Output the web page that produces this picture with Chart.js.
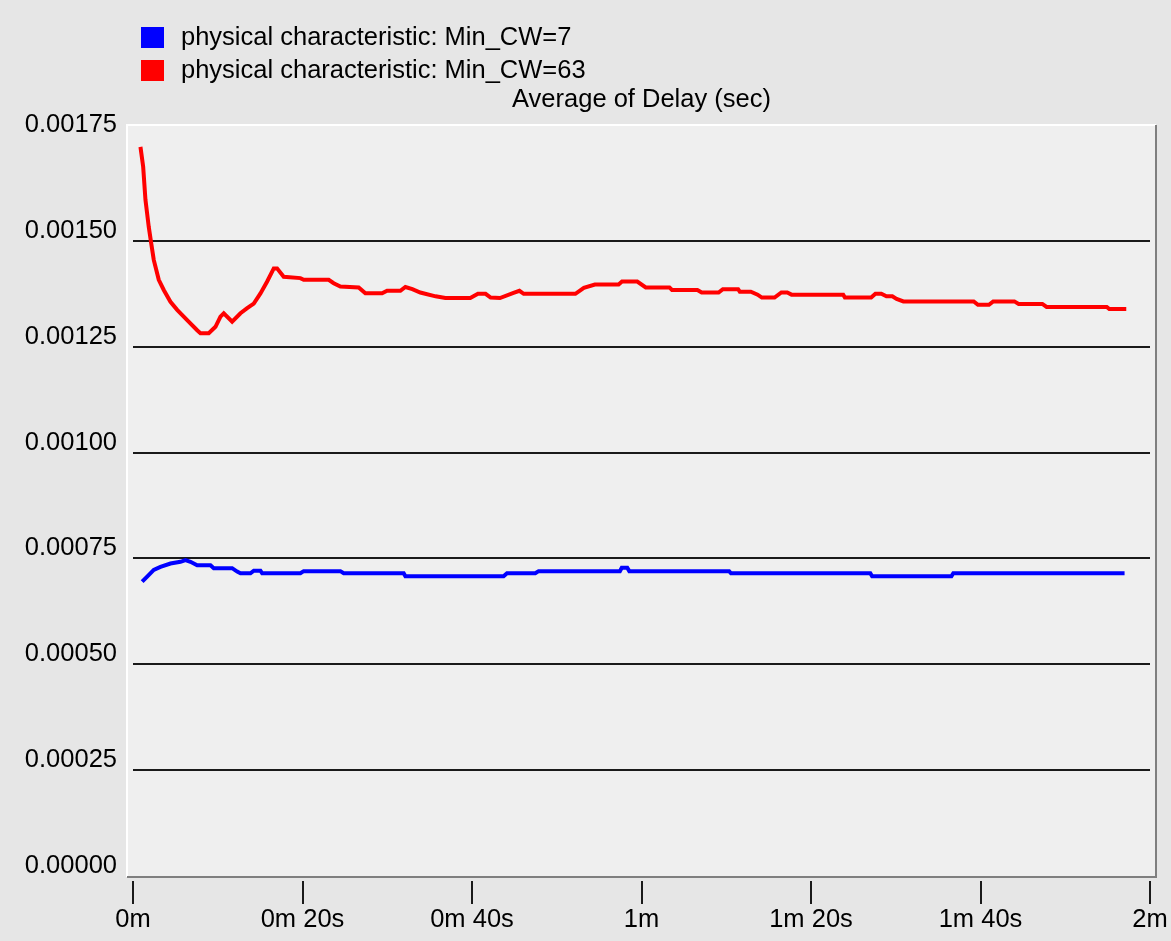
<!DOCTYPE html>
<html>
<head>
<meta charset="utf-8">
<script src="https://cdn.jsdelivr.net/npm/chart.js@4.4.1/dist/chart.umd.min.js"></script>
<style>
  html, body { margin: 0; padding: 0; background: #e6e6e6; }
  canvas { display: block; }
</style>
</head>
<body>
<canvas id="c" width="1171" height="941"></canvas>
<script>
// ---- Data ----
const chartTitle = 'Average of Delay (sec)';
const seriesNames = ['physical characteristic: Min_CW=7', 'physical characteristic: Min_CW=63'];
const seriesColors = ['#0000ff', '#ff0000'];

const xTickValues = [0, 20, 40, 60, 80, 100, 120];
const xTickLabels = ['0m', '0m 20s', '0m 40s', '1m', '1m 20s', '1m 40s', '2m'];
const yTickValues = [0, 0.00025, 0.0005, 0.00075, 0.001, 0.00125, 0.0015, 0.00175];
const yTickLabels = ['0.00000', '0.00025', '0.00050', '0.00075', '0.00100', '0.00125', '0.00150', '0.00175'];

// Min_CW=7 (blue): time in seconds, delay in seconds
const blueTimes = [1.08, 1.67, 2.45, 3.24, 4.42, 5.6, 6.19, 6.78, 7.57, 9.14, 9.53, 11.7, 12.29, 12.68, 13.86, 14.25, 15.04, 15.24, 19.75, 20.14, 24.47, 24.86, 31.94, 32.14, 43.73, 44.13, 47.47, 47.86, 57.45, 57.67, 58.32, 58.56, 70.34, 70.56, 87.0, 87.21, 96.57, 96.79, 117.0];
const blueValues = [0.000695, 0.000707, 0.000723, 0.00073, 0.000738, 0.000742, 0.000746, 0.000742, 0.000734, 0.000734, 0.000727, 0.000727, 0.000719, 0.000715, 0.000715, 0.000721, 0.000721, 0.000715, 0.000715, 0.00072, 0.00072, 0.000715, 0.000715, 0.000708, 0.000708, 0.000715, 0.000715, 0.00072, 0.00072, 0.000728, 0.000728, 0.00072, 0.00072, 0.000715, 0.000715, 0.000708, 0.000708, 0.000715, 0.000715];

// Min_CW=63 (red)
const redTimes = [0.88, 1.2, 1.47, 1.86, 2.15, 2.45, 3.04, 3.63, 4.42, 5.21, 6.39, 7.57, 7.96, 8.94, 9.73, 10.32, 10.71, 11.7, 12.68, 13.47, 14.25, 15.04, 15.83, 16.61, 17.0, 17.78, 19.75, 20.14, 23.09, 23.68, 24.47, 26.63, 27.42, 29.39, 29.98, 31.55, 32.14, 32.96, 33.9, 35.7, 36.86, 39.8, 40.7, 41.6, 42.2, 43.3, 44.9, 45.6, 46.1, 52.2, 53.2, 54.5, 57.3, 57.7, 59.5, 60.5, 63.3, 63.6, 66.6, 67.1, 69.1, 69.6, 71.4, 71.6, 72.9, 73.7, 74.2, 75.7, 76.5, 77.2, 77.7, 83.8, 84.0, 87.1, 87.6, 88.3, 88.9, 89.6, 90.1, 90.9, 99.2, 99.7, 101.0, 101.5, 104.0, 104.5, 107.3, 107.8, 114.9, 115.2, 117.2];
const redValues = [0.001722, 0.001675, 0.001597, 0.001533, 0.001494, 0.001455, 0.001408, 0.001384, 0.001356, 0.001337, 0.001313, 0.001289, 0.001282, 0.001282, 0.001297, 0.001321, 0.001329, 0.001309, 0.001329, 0.001341, 0.001352, 0.001376, 0.001404, 0.001435, 0.001435, 0.001415, 0.001412, 0.001408, 0.001408, 0.0014, 0.001392, 0.00139, 0.001376, 0.001376, 0.001382, 0.001382, 0.001391, 0.001386, 0.001378, 0.001369, 0.001365, 0.001365, 0.001375, 0.001375, 0.001366, 0.001365, 0.001377, 0.001382, 0.001375, 0.001375, 0.001389, 0.001397, 0.001397, 0.001404, 0.001404, 0.00139, 0.00139, 0.001384, 0.001384, 0.001378, 0.001378, 0.001386, 0.001386, 0.00138, 0.00138, 0.001373, 0.001366, 0.001366, 0.001378, 0.001378, 0.001373, 0.001373, 0.001366, 0.001366, 0.001375, 0.001375, 0.001369, 0.001369, 0.001363, 0.001357, 0.001357, 0.001349, 0.001349, 0.001357, 0.001357, 0.001351, 0.001351, 0.001344, 0.001344, 0.001339, 0.001339];

// ---- Style ----
const FONT_FAMILY = '"Liberation Sans", Arial, sans-serif';
const FONT_SIZE = 25.5;

function toPoints(xs, ys) { return xs.map((x, i) => ({ x: x, y: ys[i] })); }

const framePlugin = {
  id: 'frame',
  beforeDraw(chart) {
    const ctx = chart.ctx;
    const a = chart.chartArea;
    ctx.save();
    ctx.fillStyle = '#e6e6e6';
    ctx.fillRect(0, 0, chart.width, chart.height);
    const L = a.left - 6, T = a.top - 10, R = a.right + 6, B = a.bottom + 1;
    ctx.fillStyle = '#efefef';
    ctx.fillRect(L, T, R - L, B - T);
    ctx.lineWidth = 2;
    ctx.strokeStyle = '#ffffff';
    ctx.beginPath();
    ctx.moveTo(L, B); ctx.lineTo(L, T); ctx.lineTo(R, T);
    ctx.stroke();
    ctx.strokeStyle = '#7f7f7f';
    ctx.beginPath();
    ctx.moveTo(R, T); ctx.lineTo(R, B); ctx.lineTo(L, B);
    ctx.stroke();
    ctx.restore();
  },
  afterDraw(chart) {
    const ctx = chart.ctx;
    const a = chart.chartArea;
    const xs = chart.scales.x;
    ctx.save();
    // x tick marks
    ctx.strokeStyle = '#1a1a1a';
    ctx.lineWidth = 2;
    xs.ticks.forEach(t => {
      const px = Math.round(xs.getPixelForValue(t.value));
      ctx.beginPath();
      ctx.moveTo(px, a.bottom + 5);
      ctx.lineTo(px, a.bottom + 28);
      ctx.stroke();
    });
    // title
    ctx.fillStyle = '#000';
    ctx.font = FONT_SIZE + 'px ' + FONT_FAMILY;
    ctx.textAlign = 'center';
    ctx.textBaseline = 'middle';
    ctx.fillText(chartTitle, (a.left + a.right) / 2, 100);
    // legend
    ctx.textAlign = 'left';
    chart.data.datasets.forEach((ds, i) => {
      const y = 27 + i * 33;
      ctx.fillStyle = ds.borderColor;
      ctx.fillRect(141, y, 23, 21);
      ctx.fillStyle = '#000';
      ctx.fillText(ds.label, 181, y + 11);
    });
    ctx.restore();
  }
};

new Chart(document.getElementById('c'), {
  type: 'line',
  data: {
    datasets: [
      { label: seriesNames[0], data: toPoints(blueTimes, blueValues), borderColor: seriesColors[0], backgroundColor: seriesColors[0], borderWidth: 4, pointRadius: 0, tension: 0, fill: false },
      { label: seriesNames[1], data: toPoints(redTimes, redValues), borderColor: seriesColors[1], backgroundColor: seriesColors[1], borderWidth: 4, pointRadius: 0, tension: 0, fill: false }
    ]
  },
  options: {
    responsive: false,
    animation: false,
    devicePixelRatio: 1,
    layout: { autoPadding: false, padding: { top: 135, right: 21, bottom: 0, left: 0 } },
    plugins: {
      legend: { display: false },
      title: { display: false },
      tooltip: { enabled: false }
    },
    scales: {
      x: {
        type: 'linear',
        min: 0, max: 120,
        afterBuildTicks: s => { s.ticks = xTickValues.map(v => ({ value: v })); },
        afterFit: s => { s.height = 65; s.paddingLeft = 0; s.paddingRight = 0; },
        grid: { display: true, drawOnChartArea: false, drawTicks: true, tickLength: 29, color: 'rgba(0,0,0,0)', tickColor: 'rgba(0,0,0,0)' },
        border: { display: false },
        ticks: {
          padding: 0,
          color: '#000',
          font: { family: FONT_FAMILY, size: FONT_SIZE },
          maxRotation: 0,
          autoSkip: false,
          callback: v => { const i = xTickValues.indexOf(v); return i >= 0 ? xTickLabels[i] : ''; }
        }
      },
      y: {
        type: 'linear',
        min: 0, max: 0.00175,
        afterBuildTicks: s => { s.ticks = yTickValues.map(v => ({ value: v })); },
        afterFit: s => { s.width = 133; },
        grid: {
          drawTicks: false,
          lineWidth: 2,
          color: c => (c.tick && c.tick.value > 0 && c.tick.value < 0.00174) ? '#1a1a1a' : 'rgba(0,0,0,0)'
        },
        border: { display: false },
        ticks: {
          padding: 16,
          labelOffset: -10,
          color: '#000',
          font: { family: FONT_FAMILY, size: FONT_SIZE },
          autoSkip: false,
          callback: v => { const i = yTickValues.findIndex(t => Math.abs(t - v) < 1e-9); return i >= 0 ? yTickLabels[i] : ''; }
        }
      }
    }
  },
  plugins: [framePlugin]
});
</script>
</body>
</html>
